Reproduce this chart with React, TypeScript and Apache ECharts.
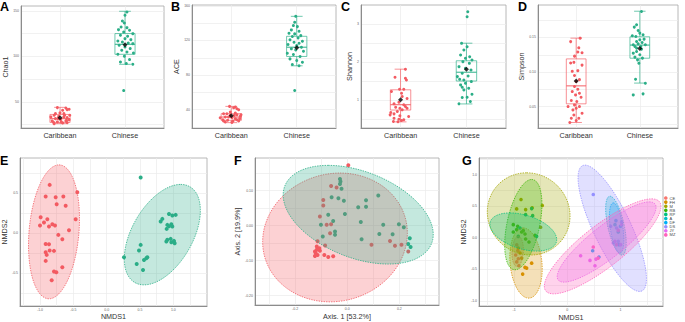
import React, { useEffect, useRef } from "react";
import * as echarts from "echarts";

const FONT = '"Liberation Sans", Arial, Helvetica, sans-serif';
const RED = "#F35B62";
const GREEN = "#2AAE87";

// ---------- Box plot panels (A-D) ----------
const boxCategories = ["Caribbean", "Chinese"];
const boxXTicks = [1, 2];

// A: Chao1  stats = [min, q1, median, q3, max]
const chao1Stats = [
  [26.2, 27.5, 31.7, 36.3, 44.1],
  [91.4, 102.4, 113.4, 125.2, 149.7],
];
const chao1Means = [32.8, 113.0];
const chao1Carib = [[-0.04,43.8],[0.09,43.4],[0.11,41.6],[0.04,40.9],[0.14,42.0],[-0.09,35.4],[-0.02,34.3],[0.06,33.6],[0.11,32.8],[-0.07,31.7],[0.01,30.6],[0.10,29.9],[-0.12,29.2],[-0.04,28.1],[0.04,27.0],[0.11,27.3],[-0.09,26.2],[0.06,37.2],[-0.14,33.6],[0.15,35.4],[0,38.0],[0.09,29.2],[-0.07,37.2],[0.02,28.1],[0.14,30.6],[-0.03,31.7],[-0.10,27.7],[0.07,35.4]];
const chao1Chinese = [[0.03,148.9],[0,145.3],[-0.04,139.0],[-0.01,136.8],[-0.06,132.5],[0.03,131.7],[-0.10,129.5],[0.07,128.8],[-0.02,127.0],[0.12,125.1],[-0.07,123.3],[0.04,122.2],[0,119.6],[0.09,118.5],[-0.11,117.1],[-0.04,116.0],[0.05,114.9],[0.12,114.1],[-0.09,112.3],[0,110.5],[0.08,108.7],[-0.05,106.8],[0.03,105.0],[0.13,103.9],[-0.11,102.4],[-0.01,100.2],[0.07,96.6],[-0.07,94.0],[0.02,92.2],[0.12,91.4],[-0.02,62.5]];
const chao1Ticks = [50, 100, 150];
const chao1Lines = [25, 50, 75, 100, 125, 150];

// B: ACE
const aceStats = [
  [25.0, 27.7, 31.5, 35.4, 43.8],
  [90.7, 101.5, 112.2, 124.8, 147.9],
];
const aceMeans = [33.0, 111.5];
const aceCarib = [[-0.026,43.8],[0.062,43.0],[0.087,41.1],[0.036,42.3],[0.113,39.9],[-0.118,35.3],[-0.015,33.4],[0.087,34.2],[0.138,32.3],[-0.092,31.5],[0.01,30.7],[0.062,29.6],[-0.128,28.4],[-0.056,27.7],[0.026,26.9],[0.113,26.9],[-0.092,25.7],[0.062,36.1],[-0.169,30.7],[0.149,34.2],[-0.015,37.3],[0.087,28.4],[-0.067,35.3],[0.01,25.3],[0.128,29.6],[-0.041,31.5],[-0.118,26.9],[0.046,33.4]];
const aceChinese = [[-0.015,147.9],[-0.031,141.0],[-0.051,137.2],[0.01,136.0],[-0.082,132.2],[0.036,130.6],[-0.118,128.3],[-0.031,127.6],[0.062,125.6],[-0.067,124.5],[0.021,123.0],[-0.103,120.7],[0.087,119.1],[-0.041,118.0],[0.036,116.8],[-0.133,115.3],[0,114.1],[0.072,112.2],[-0.082,110.3],[-0.015,109.1],[0.103,107.6],[-0.144,105.3],[-0.051,103.7],[0.051,101.4],[-0.103,98.7],[0,96.8],[0.087,94.9],[-0.067,92.2],[0.036,90.7],[-0.031,62.2]];
const aceTicks = [40, 80, 120, 160];
const aceLines = [20, 40, 60, 80, 100, 120, 140, 160];

// C: Shannon
const shannonStats = [
  [0.44, 0.75, 0.89, 1.28, 1.82],
  [0.91, 1.51, 1.74, 2.04, 2.50],
];
const shannonMeans = [1.02, 1.82];
const shannonCarib = [[0.074,1.817],[-0.084,1.608],[0.074,1.582],[0.089,1.538],[-0.015,1.295],[0.049,1.295],[-0.138,1.234],[0.015,1.190],[0.025,1.103],[0.099,1.051],[-0.025,0.955],[-0.099,0.912],[0.049,0.886],[0.074,0.842],[-0.074,0.825],[-0.01,0.798],[0.099,0.798],[0.025,0.755],[-0.049,0.711],[-0.148,0.685],[-0.099,0.650],[-0.01,0.598],[0.123,0.581],[-0.099,0.537],[-0.025,0.511],[0.015,0.476],[-0.039,0.442],[-0.108,0.450],[0.049,0.494],[-0.158,0.624]];
const shannonChinese = [[0.02,3.322],[0.01,3.192],[-0.074,2.496],[0.01,2.409],[-0.039,2.322],[-0.089,2.191],[0.049,2.147],[-0.015,2.104],[0.084,2.060],[-0.054,2.017],[0.044,1.973],[-0.113,1.886],[-0.015,1.843],[0.069,1.799],[-0.064,1.712],[0.025,1.643],[-0.103,1.556],[-0.039,1.538],[0.074,1.495],[-0.015,1.451],[-0.089,1.408],[-0.064,1.347],[0.034,1.321],[0.084,1.164],[0.01,1.086],[-0.064,1.077],[-0.113,0.912],[0.059,0.973],[-0.039,1.277],[-0.138,1.625]];
const shannonTicks = [1, 2, 3];
const shannonLines = [0.5, 1, 1.5, 2, 2.5, 3];

// D: Simpson
const simpsonStats = [
  [0.027, 0.054, 0.080, 0.119, 0.149],
  [0.084, 0.120, 0.139, 0.151, 0.188],
];
const simpsonMeans = [0.087, 0.134];
const simpsonCarib = [[-0.087,0.144],[0.062,0.149],[0.041,0.135],[0.092,0.128],[0.026,0.129],[-0.026,0.123],[-0.087,0.113],[-0.036,0.114],[0.092,0.110],[0.026,0.102],[-0.062,0.101],[-0.026,0.095],[0.051,0.089],[0,0.0863],[-0.026,0.079],[0.026,0.0751],[-0.062,0.0717],[0.051,0.0693],[-0.01,0.0669],[0.077,0.0635],[-0.077,0.0587],[0.01,0.0573],[-0.026,0.0524],[0.051,0.05],[0,0.0476],[0.092,0.0404],[-0.036,0.0379],[-0.077,0.0331],[0,0.0297],[0.041,0.0331],[-0.051,0.0452],[-0.128,0.05],[-0.1,0.027]];
const simpsonChinese = [[0.026,0.1877],[-0.051,0.1684],[-0.087,0.1650],[-0.026,0.1602],[0.051,0.1539],[-0.118,0.1524],[0,0.1466],[-0.051,0.1442],[0.036,0.1428],[-0.026,0.1408],[0.087,0.1394],[-0.077,0.1370],[0.026,0.1331],[-0.051,0.1297],[-0.103,0.1273],[0,0.1249],[-0.077,0.1215],[-0.036,0.1176],[-0.015,0.1128],[-0.062,0.1515],[0.067,0.1476],[-0.103,0.1394],[0.015,0.1370],[0.041,0.1201],[-0.067,0.0896],[0.087,0.0838],[-0.103,0.0669],[0.051,0.0684],[-0.051,0.1346],[0,0.1563]];
const simpsonTicks = [0.05, 0.1, 0.15];
const simpsonLines = [0.025, 0.05, 0.075, 0.1, 0.125, 0.15, 0.175];

// ---------- E: NMDS by population ----------
const eCarib = [[-0.855,0.604],[-0.915,0.458],[-0.765,0.45],[-0.65,0.458],[-0.75,0.362],[-0.615,0.342],[-0.44,0.512],[-0.99,0.20],[-0.94,0.133],[-0.89,0.175],[-1.0,0.096],[-0.865,0.083],[-0.815,0.112],[-0.775,0.096],[-0.465,0.175],[-0.565,0.037],[-0.725,-0.021],[-0.665,-0.075],[-0.915,-0.134],[-0.865,-0.138],[-0.79,-0.221],[-0.915,-0.238],[-0.9,-0.271],[-0.855,-0.217],[-0.915,-0.346],[-0.665,-0.425],[-0.79,-0.479],[-0.755,-0.488],[-0.825,-0.588]];
const eChinese = [[0.51,0.696],[0.835,0.179],[0.81,0.146],[0.935,0.241],[0.985,0.221],[1.035,0.229],[0.91,0.104],[0.97,0.112],[0.935,0.087],[0.90,0.054],[0.985,0.083],[0.91,-0.083],[0.96,-0.071],[1.01,-0.096],[0.97,-0.113],[1.02,-0.125],[0.895,-0.104],[0.51,-0.146],[0.485,-0.217],[0.26,-0.3],[0.45,-0.384],[0.56,-0.334],[0.595,-0.313],[0.61,-0.3],[0.545,-0.459]];
// ellipse: [centerX, centerY, topOffsetX, topOffsetY, halfHorizontalChord]
const eEllipses = [
  [-0.79, 0.017, 0.075, 0.837, 0.375],
  [0.835, -0.018, 0.275, 0.628, 0.5],
];
const eXTicks = [-1, -0.5, 0, 0.5, 1];
const eXLines = [-1.25, -1, -0.75, -0.5, -0.25, 0, 0.25, 0.5, 0.75, 1, 1.25];
const eYTicks = [-0.5, 0, 0.5];
const eYLines = [-0.75, -0.5, -0.25, 0, 0.25, 0.5, 0.75];

// ---------- F: PCoA ----------
const fCarib = [[0.004,0.172],[-0.062,0.113],[-0.041,0.109],[-0.092,0.073],[-0.092,0.057],[-0.105,0.026],[-0.079,0.002],[-0.062,0.004],[-0.066,-0.022],[-0.114,-0.045],[-0.085,-0.057],[-0.117,-0.069],[-0.124,-0.074],[-0.121,-0.079],[-0.114,-0.084],[-0.124,-0.087],[-0.105,-0.072],[-0.088,-0.084],[-0.073,-0.090],[-0.054,-0.088],[0.093,-0.055],[0.164,-0.044],[0.183,-0.058],[0.208,-0.055],[0.234,-0.074],[-0.117,-0.060],[-0.107,-0.065]];
const fChinese = [[-0.028,0.133],[-0.026,0.126],[-0.028,0.119],[-0.022,0.105],[-0.060,0.081],[-0.034,0.078],[-0.013,0.071],[0.042,0.052],[0.072,0.072],[0.072,0.054],[0.119,0.086],[-0.073,0.031],[-0.009,0.033],[-0.101,0.002],[-0.054,0.013],[0.052,0.010],[0.138,0.002],[0.174,-0.025],[0.198,0.004],[0.217,-0.005],[0.240,-0.036],[0.234,-0.053],[0.243,-0.061],[0.055,-0.039],[0.123,-0.024],[-0.094,-0.031],[-0.047,-0.017],[-0.047,-0.026]];
const fEllipses = [
  [-0.047, -0.034, 0.019, 0.184, 0.277],
  [0.042, 0.031, -0.115, 0.141, 0.264],
];
const fXTicks = [-0.2, 0, 0.2];
const fXLines = [-0.3, -0.2, -0.1, 0, 0.1, 0.2, 0.3];
const fYTicks = [-0.2, -0.1, 0, 0.1];
const fYLines = [-0.2, -0.15, -0.1, -0.05, 0, 0.05, 0.1, 0.15];

// ---------- G: NMDS by site ----------
const gNames = ["CE", "FH", "M", "RB", "RP", "A", "DF", "DS", "JY", "MZ"];
const gColors = ["#F8766D", "#D89000", "#A3A500", "#39B600", "#00BF7D", "#00BFC4", "#00B0F6", "#9590FF", "#E76BF3", "#FF62BC"];
const gCE = [[-0.95,-0.11],[-0.93,-0.20],[-0.97,-0.27],[-0.92,-0.33],[-0.95,-0.38],[-0.91,-0.44]];
const gFH = [[-0.67,-0.40],[-0.795,-0.467],[-0.764,-0.478],[-0.839,-0.573],[-0.889,-0.239],[-0.858,-0.319],[-0.921,-0.16]];
const gM = [[-0.870,0.610],[-0.952,0.462],[-0.783,0.451],[-0.469,0.515],[-0.501,0.170],[-0.66,0.48]];
const gRB = [[-1.015,0.212],[-0.952,0.133],[-0.933,0.186],[-0.827,0.117],[-0.795,0.064],[-1.015,0.095],[-0.858,0.095],[-0.720,-0.064],[-0.783,-0.016],[-0.607,0.042]];
const gRP = [[-0.783,0.371],[-0.670,0.467],[-0.651,0.355],[-0.576,0.026],[-0.921,0.026],[-0.889,0.159]];
const gA = [[0.897,0.212],[0.959,0.095]];
const gDF = [[0.477,-0.202],[0.596,-0.303],[0.915,0.276],[0.972,-0.106],[1.0,0.186]];
const gDS = [[0.489,0.690],[0.815,0.186],[0.928,0.159],[0.865,-0.080],[1.022,0.255],[0.959,-0.053]];
const gJY = [[0.251,-0.282],[0.427,-0.356],[0.539,-0.335],[0.521,-0.441],[0.897,-0.053],[1.003,-0.106],[1.022,0.212]];
const gMZ = [[0.489,-0.144],[0.58,-0.32],[0.928,-0.106],[0.959,0.12]];
const gPointSets = [gCE, gFH, gM, gRB, gRP, gA, gDF, gDS, gJY, gMZ];
const gEllipses = [
  [-0.933, -0.213, 0.012, 0.239, 0.107],
  [-0.776, -0.398, -0.051, 0.557, 0.30],
  [-0.726, 0.382, -0.038, 0.653, 0.777],
  [-0.827, 0.212, 0.157, 0.717, 0.313],
  [-0.827, 0.095, -0.25, 0.303, 0.576],
  [0.915, 0.196, -0.112, 0.467, 0.157],
  [0.928, 0.159, -0.063, 0.398, 0.12],
  [0.846, 0.154, -0.513, 1.003, 0.388],
  [0.740, -0.064, 0.802, 0.637, 0.47],
  [0.665, -0.133, 0.921, 0.754, 0.595],
];
const gXTicks = [-1, 0, 1];
const gXLines = [-1.5, -1, -0.5, 0, 0.5, 1, 1.5];
const gYTicks = [-1, -0.5, 0, 0.5, 1];
const gYLines = [-1, -0.75, -0.5, -0.25, 0, 0.25, 0.5, 0.75, 1, 1.25];

// ---------- helpers ----------
const f0 = (v: number) => String(Math.round(v));
const f1 = (v: number) => (Math.abs(v) < 1e-9 ? 0 : v).toFixed(1);
const f2 = (v: number) => (Math.abs(v) < 1e-9 ? 0 : v).toFixed(2);
const fInt = (v: number) => String(Math.round(v));

function valueAxis(gi: number, min: number, max: number, labels: number[], lines: number[], fmt: any, extra: any = {}) {
  const { labelStyle, ...rest } = extra;
  return {
    type: "value",
    gridIndex: gi,
    min,
    max,
    axisLine: { show: true, onZero: false, lineStyle: { color: "#8c8c8c", width: 1 } },
    axisTick: { show: false, customValues: lines },
    axisLabel: Object.assign(
      { customValues: labels, formatter: fmt, fontSize: 3.5, color: "#666", margin: 2, fontFamily: FONT },
      labelStyle || {}
    ),
    splitLine: { show: true, lineStyle: { color: "#ebebeb", width: 0.7 } },
    nameTextStyle: { fontSize: 7.2, color: "#333", fontFamily: FONT },
    nameLocation: "middle",
    ...rest,
  };
}

function boxRender(color: string) {
  return (params: any, api: any) => {
    const x = api.value(0);
    const v = [1, 2, 3, 4, 5].map((i) => api.value(i));
    const c = (a: number, b: number) => api.coord([a, b]);
    const hw = 0.155, cw = 0.09;
    const top = c(x, v[4]), q3 = c(x, v[3]), md = c(x, v[2]), q1 = c(x, v[1]), bot = c(x, v[0]);
    const left = c(x - hw, v[3])[0], right = c(x + hw, v[3])[0];
    const cl = c(x - cw, v[3])[0], cr = c(x + cw, v[3])[0];
    const st = { stroke: color, lineWidth: 0.9, fill: null, opacity: 0.75 };
    return {
      type: "group",
      children: [
        { type: "line", shape: { x1: top[0], y1: top[1], x2: q3[0], y2: q3[1] }, style: st },
        { type: "line", shape: { x1: q1[0], y1: q1[1], x2: bot[0], y2: bot[1] }, style: st },
        { type: "line", shape: { x1: cl, y1: top[1], x2: cr, y2: top[1] }, style: st },
        { type: "line", shape: { x1: cl, y1: bot[1], x2: cr, y2: bot[1] }, style: st },
        { type: "rect", shape: { x: left, y: q3[1], width: right - left, height: q1[1] - q3[1] }, style: { ...st, fill: "rgba(255,255,255,0)" } },
        { type: "line", shape: { x1: left, y1: md[1], x2: right, y2: md[1] }, style: { ...st, lineWidth: 1.1, opacity: 0.9 } },
      ],
    };
  };
}

function ellipseRender(color: string) {
  return (params: any, api: any) => {
    const cx = api.value(0), cy = api.value(1), ux = api.value(2), uy = api.value(3), vx = api.value(4);
    const pts: number[][] = [];
    for (let i = 0; i < 96; i++) {
      const t = (i / 96) * Math.PI * 2;
      pts.push(api.coord([cx + Math.cos(t) * ux + Math.sin(t) * vx, cy + Math.cos(t) * uy]));
    }
    return {
      type: "polygon",
      shape: { points: pts },
      style: {
        fill: echarts.color.modifyAlpha(color, 0.28),
        stroke: color,
        lineWidth: 0.8,
        lineDash: [1.4, 1.1],
      },
    };
  };
}

function scatter(gi: number, data: number[][], color: string, size: number, name?: string, z = 3) {
  return {
    type: "scatter",
    name,
    xAxisIndex: gi,
    yAxisIndex: gi,
    data,
    symbolSize: size,
    itemStyle: { color, opacity: 1 },
    silent: true,
    z,
  };
}

function ellipse(gi: number, params: number[], color: string, name?: string) {
  return {
    type: "custom",
    name,
    xAxisIndex: gi,
    yAxisIndex: gi,
    data: [params],
    encode: { x: 0, y: 1 },
    renderItem: ellipseRender(color),
    silent: true,
    z: 4,
  };
}

function boxPanel(gi: number, stats: number[][], means: number[], carib: number[][], chinese: number[][]) {
  const cols = [RED, GREEN];
  const out: any[] = [];
  stats.forEach((s, i) => {
    out.push({
      type: "custom",
      xAxisIndex: gi,
      yAxisIndex: gi,
      data: [[i + 1, ...s]],
      encode: { x: 0, y: [1, 2, 3, 4, 5] },
      renderItem: boxRender(cols[i]),
      silent: true,
      z: 2,
    });
  });
  out.push(scatter(gi, carib.map(([o, v]) => [1 + o, v]), RED, 3));
  out.push(scatter(gi, chinese.map(([o, v]) => [2 + o, v]), GREEN, 3));
  out.push({
    type: "scatter",
    xAxisIndex: gi,
    yAxisIndex: gi,
    data: means.map((m, i) => [i + 1, m]),
    symbol: "diamond",
    symbolSize: 5,
    itemStyle: { color: "#000" },
    silent: true,
    z: 5,
  });
  return out;
}

function boxXAxis(gi: number) {
  return valueAxis(gi, 0.4, 2.6, boxXTicks, boxXTicks, (v: number) => boxCategories[Math.round(v) - 1], {
    labelStyle: { fontSize: 7.2, color: "#333", margin: 4 },
  });
}

export default function App() {
  const ref = useRef<HTMLDivElement>(null);
  useEffect(() => {
    document.body.style.margin = "0";
    document.body.style.background = "#fff";
    const chart = echarts.init(ref.current!, undefined, { renderer: "svg" });

    const grids = [
      { left: 21, top: 6, width: 143, height: 122 },
      { left: 192, top: 5, width: 144, height: 123 },
      { left: 361, top: 5, width: 145, height: 123 },
      { left: 538, top: 5, width: 140, height: 123 },
      { left: 20, top: 158, width: 187, height: 148 },
      { left: 255, top: 158, width: 184, height: 147 },
      { left: 479, top: 158, width: 184, height: 148 },
    ].map((g) => ({ ...g, show: true, borderColor: "#a6a6a6", borderWidth: 0.8, backgroundColor: "transparent" }));

    const xAxes = [
      boxXAxis(0),
      boxXAxis(1),
      boxXAxis(2),
      boxXAxis(3),
      valueAxis(4, -1.3, 1.505, eXTicks, eXLines, f1, { name: "NMDS1", nameGap: 7 }),
      valueAxis(5, -0.354, 0.352, fXTicks, fXLines, f1, { name: "Axis. 1 [53.2%]", nameGap: 8 }),
      valueAxis(6, -1.66, 1.8, gXTicks, gXLines, fInt, { name: "NMDS1", nameGap: 8 }),
    ];
    const yAxes = [
      valueAxis(0, 21.4, 155.5, chao1Ticks, chao1Lines, f0, { name: "Chao1", nameGap: 6 }),
      valueAxis(1, 18.8, 161, aceTicks, aceLines, f0, { name: "ACE", nameGap: 6 }),
      valueAxis(2, 0.28, 3.5, shannonTicks, shannonLines, fInt, { name: "Shannon", nameGap: 3 }),
      valueAxis(3, 0.019, 0.197, simpsonTicks, simpsonLines, f2, { name: "Simpson", nameGap: 8.5 }),
      valueAxis(4, -0.91, 0.94, eYTicks, eYLines, f1, { name: "NMDS2", nameGap: 6 }),
      valueAxis(5, -0.227, 0.193, fYTicks, fYLines, f2, { name: "Axis. 2 [19.9%]", nameGap: 10 }),
      valueAxis(6, -1.08, 1.27, gYTicks, gYLines, f1, { name: "NMDS2", nameGap: 7.5 }),
    ];

    const series: any[] = [
      ...boxPanel(0, chao1Stats, chao1Means, chao1Carib, chao1Chinese),
      ...boxPanel(1, aceStats, aceMeans, aceCarib, aceChinese),
      ...boxPanel(2, shannonStats, shannonMeans, shannonCarib, shannonChinese),
      ...boxPanel(3, simpsonStats, simpsonMeans, simpsonCarib, simpsonChinese),
      scatter(4, eCarib, RED, 4, "Caribbean"),
      scatter(4, eChinese, GREEN, 4, "Chinese"),
      ellipse(4, eEllipses[0], RED, "Caribbean"),
      ellipse(4, eEllipses[1], GREEN, "Chinese"),
      scatter(5, fCarib, RED, 4, "Caribbean"),
      scatter(5, fChinese, GREEN, 4, "Chinese"),
      ellipse(5, fEllipses[0], RED, "Caribbean"),
      ellipse(5, fEllipses[1], GREEN, "Chinese"),
      ...gPointSets.map((pts, i) => scatter(6, pts, gColors[i], 3.6, gNames[i])),
      ...gEllipses.map((e, i) => ellipse(6, e, gColors[i], gNames[i])),
    ];

    const letters = [
      ["A", 0, 0],
      ["B", 171, 0],
      ["C", 341, 0],
      ["D", 518, 0],
      ["E", 0, 154],
      ["F", 234, 154],
      ["G", 462, 154],
    ];

    chart.setOption({
      animation: false,
      backgroundColor: "#fff",
      textStyle: { fontFamily: FONT },
      grid: grids,
      xAxis: xAxes,
      yAxis: yAxes,
      series,
      legend: {
        data: gNames,
        orient: "vertical",
        left: 664,
        top: 196,
        icon: "circle",
        itemWidth: 3.6,
        itemHeight: 3.6,
        itemGap: 0.1,
        padding: 0,
        selectedMode: false,
        textStyle: { fontSize: 4, color: "#444", fontFamily: FONT, lineHeight: 3.6, padding: [0, 0, 0, -3] },
      },
      graphic: letters.map(([t, x, y]) => ({
        type: "text",
        x: x as number,
        y: y as number,
        silent: true,
        style: { text: t as string, font: `bold 12.5px ${FONT}`, fill: "#000", textVerticalAlign: "top" },
      })),
    });
    return () => chart.dispose();
  }, []);
  return <div ref={ref} style={{ width: 685, height: 322 }} />;
}
